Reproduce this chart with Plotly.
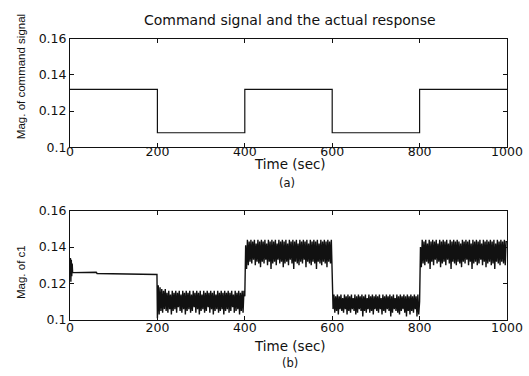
import numpy as np
import plotly.graph_objects as go

# ---- data ----
x_ticks = [0, 200, 400, 600, 800, 1000]
y_ticks = [0.10, 0.12, 0.14, 0.16]
y_tick_text = ["0.1", "0.12", "0.14", "0.16"]

# command signal (step changes every 200 s)
t_cmd = [0, 200, 400, 600, 800, 1000]
cmd = [0.132, 0.108, 0.132, 0.108, 0.132, 0.132]

# actual response c1: quiet start, then oscillating segments sampled every 2 s
t_head = [0, 1, 2, 3, 4, 5, 6, 60, 62, 199]
c1_head = [0.126, 0.134, 0.121, 0.133, 0.124, 0.131, 0.126, 0.1262, 0.1255, 0.125]

c1_200 = [0.101, 0.119, 0.103, 0.118, 0.105, 0.117, 0.104, 0.116, 0.106, 0.117,
          0.105, 0.115, 0.104, 0.116, 0.106, 0.114, 0.103, 0.116, 0.105, 0.115,
          0.106, 0.116, 0.104, 0.115, 0.107, 0.116, 0.105, 0.114, 0.104, 0.116,
          0.106, 0.115, 0.103, 0.116, 0.105, 0.115, 0.106, 0.116, 0.104, 0.114,
          0.105, 0.116, 0.107, 0.115, 0.104, 0.116, 0.106, 0.115, 0.103, 0.116,
          0.105, 0.114, 0.106, 0.116, 0.104, 0.115, 0.105, 0.116, 0.107, 0.115,
          0.104, 0.116, 0.106, 0.115, 0.103, 0.116, 0.105, 0.114, 0.106, 0.116,
          0.104, 0.115, 0.105, 0.116, 0.106, 0.115, 0.103, 0.116, 0.105, 0.115,
          0.106, 0.116, 0.104, 0.115, 0.105, 0.116, 0.107, 0.114, 0.104, 0.116,
          0.105, 0.115, 0.106, 0.116, 0.103, 0.115, 0.105, 0.116, 0.104, 0.116]
c1_400 = [0.113, 0.141, 0.128, 0.144, 0.130, 0.143, 0.132, 0.144, 0.131, 0.143,
          0.133, 0.144, 0.130, 0.142, 0.132, 0.144, 0.131, 0.143, 0.129, 0.144,
          0.132, 0.143, 0.131, 0.144, 0.133, 0.142, 0.130, 0.144, 0.132, 0.143,
          0.128, 0.144, 0.131, 0.143, 0.132, 0.144, 0.130, 0.142, 0.133, 0.144,
          0.131, 0.143, 0.132, 0.144, 0.129, 0.143, 0.131, 0.144, 0.132, 0.142,
          0.130, 0.144, 0.133, 0.143, 0.131, 0.144, 0.128, 0.143, 0.132, 0.144,
          0.131, 0.142, 0.130, 0.144, 0.132, 0.143, 0.131, 0.144, 0.133, 0.143,
          0.129, 0.144, 0.132, 0.142, 0.131, 0.144, 0.130, 0.143, 0.132, 0.144,
          0.131, 0.143, 0.128, 0.144, 0.132, 0.142, 0.131, 0.144, 0.130, 0.143,
          0.132, 0.144, 0.131, 0.143, 0.129, 0.144, 0.132, 0.143, 0.131, 0.144]
c1_600 = [0.128, 0.106, 0.114, 0.104, 0.113, 0.105, 0.114, 0.103, 0.113, 0.106,
          0.114, 0.105, 0.112, 0.104, 0.114, 0.106, 0.113, 0.103, 0.114, 0.105,
          0.113, 0.104, 0.114, 0.106, 0.112, 0.105, 0.114, 0.103, 0.113, 0.104,
          0.114, 0.106, 0.113, 0.105, 0.114, 0.102, 0.113, 0.105, 0.114, 0.104,
          0.112, 0.106, 0.114, 0.104, 0.113, 0.105, 0.114, 0.103, 0.113, 0.106,
          0.114, 0.105, 0.113, 0.104, 0.114, 0.106, 0.112, 0.103, 0.114, 0.105,
          0.113, 0.104, 0.114, 0.106, 0.113, 0.105, 0.114, 0.102, 0.113, 0.104,
          0.114, 0.106, 0.112, 0.105, 0.114, 0.104, 0.113, 0.103, 0.114, 0.105,
          0.113, 0.106, 0.114, 0.104, 0.113, 0.102, 0.114, 0.105, 0.113, 0.103,
          0.114, 0.105, 0.113, 0.104, 0.114, 0.106, 0.113, 0.102, 0.114, 0.103]
c1_800 = [0.110, 0.140, 0.129, 0.144, 0.131, 0.143, 0.130, 0.144, 0.132, 0.142,
          0.131, 0.144, 0.128, 0.143, 0.132, 0.144, 0.130, 0.143, 0.133, 0.144,
          0.131, 0.142, 0.132, 0.144, 0.129, 0.143, 0.131, 0.144, 0.132, 0.143,
          0.130, 0.144, 0.133, 0.142, 0.131, 0.144, 0.128, 0.143, 0.132, 0.144,
          0.131, 0.143, 0.130, 0.144, 0.132, 0.143, 0.131, 0.142, 0.129, 0.144,
          0.132, 0.143, 0.131, 0.144, 0.133, 0.143, 0.130, 0.144, 0.132, 0.142,
          0.128, 0.144, 0.131, 0.143, 0.132, 0.144, 0.130, 0.143, 0.131, 0.144,
          0.133, 0.142, 0.130, 0.144, 0.132, 0.143, 0.129, 0.144, 0.131, 0.143,
          0.132, 0.144, 0.130, 0.143, 0.131, 0.144, 0.128, 0.142, 0.132, 0.144,
          0.131, 0.143, 0.130, 0.144, 0.132, 0.143, 0.131, 0.144, 0.130, 0.143]

c1_osc = c1_200 + c1_400 + c1_600 + c1_800
t_osc = list(np.arange(200, 1000, 2)) + [1000]
c1_osc = c1_osc + [c1_osc[-1]]

t_resp = t_head + t_osc
c1 = c1_head + c1_osc

# ---- figure ----
W, H = 529, 376
ML, MR = 70, 22
WIDE = "DejaVu Sans, Verdana, sans-serif"
NARROW = "Liberation Sans, Arial, sans-serif"
INK = "#111111"


def px_x(p):
    return (p - ML) / (W - ML - MR)


def px_y(p):
    return 1 - p / H


fig = go.Figure()
fig.add_trace(go.Scatter(x=t_cmd, y=cmd, mode="lines", line=dict(color=INK, width=1.2, shape="hv"),
                         xaxis="x", yaxis="y", showlegend=False))
fig.add_trace(go.Scatter(x=t_resp, y=c1, mode="lines", line=dict(color=INK, width=1.4),
                         xaxis="x2", yaxis="y2", showlegend=False))

axis_common = dict(showline=True, linecolor=INK, linewidth=1, mirror="ticks",
                   ticks="inside", ticklen=4, tickcolor=INK, showgrid=False, zeroline=False,
                   tickfont=dict(family=WIDE, size=12.5, color=INK))

fig.update_layout(
    width=W, height=H,
    margin=dict(l=ML, r=MR, t=0, b=0),
    paper_bgcolor="white", plot_bgcolor="white",
    xaxis=dict(domain=[0, 1], anchor="y", range=[0, 1000], tickvals=x_ticks,
               ticklabelstandoff=-7, **axis_common),
    yaxis=dict(domain=[px_y(145), px_y(32)], anchor="x", range=[0.1, 0.16],
               tickvals=y_ticks, ticktext=y_tick_text, **axis_common),
    xaxis2=dict(domain=[0, 1], anchor="y2", range=[0, 1000], tickvals=x_ticks,
                ticklabelstandoff=-4, **axis_common),
    yaxis2=dict(domain=[px_y(325), px_y(211)], anchor="x2", range=[0.1, 0.16],
                tickvals=y_ticks, ticktext=y_tick_text, **axis_common),
)

labels = [
    ("Command signal and the actual response", px_x(290), px_y(12), 0, WIDE, 14),
    ("Time (sec)", px_x(290), px_y(163), 0, WIDE, 13.5),
    ("(a)", px_x(287), px_y(182), 0, WIDE, 11.5),
    ("Mag. of command signal", px_x(21), px_y(72), -90, NARROW, 11.5),
    ("Time (sec)", px_x(290), px_y(352), 0, WIDE, 13.5),
    ("(b)", px_x(290), px_y(370), 0, WIDE, 11.5),
    ("Mag. of c1", px_x(21), px_y(275), -90, NARROW, 11.5),
]
for text, x, y, ang, fam, size in labels:
    fig.add_annotation(text=text, x=x, y=y, xref="paper", yref="paper", showarrow=False,
                       textangle=ang, xanchor="center", yanchor="middle",
                       font=dict(family=fam, size=size, color=INK))

fig.write_html("out.html")
